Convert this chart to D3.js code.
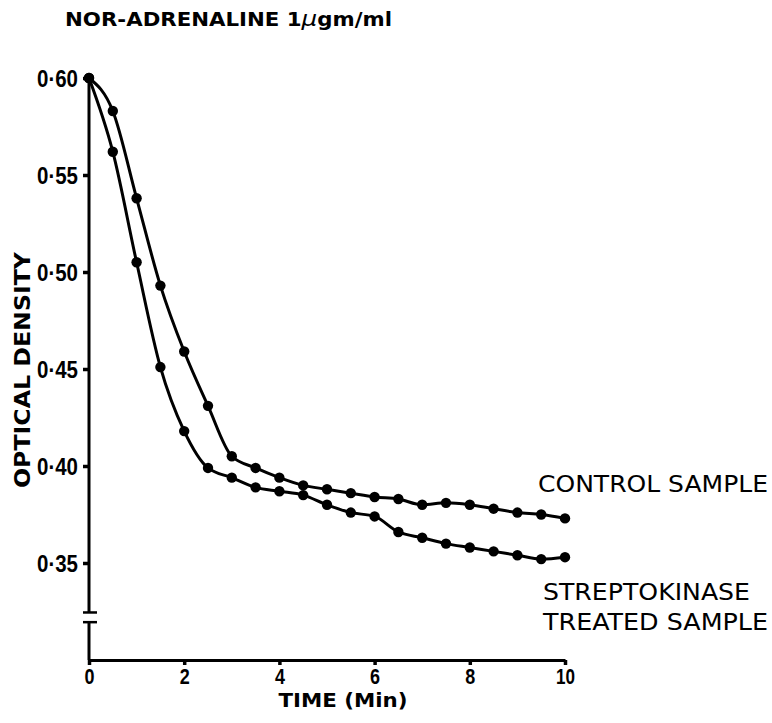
<!DOCTYPE html>
<html lang="en">
<head>
    <meta charset="utf-8">
    <title>Nor-adrenaline optical density</title>
    <script type="text/javascript" src="https://cdn.jsdelivr.net/npm/d3@7"></script>
    <style>
        body { margin: 0; background: #fff; }
    </style>
</head>
<body>
    <script type="text/javascript">

        // time in minutes, readings every half minute
        var times = [0, 0.5, 1, 1.5, 2, 2.5, 3, 3.5, 4, 4.5, 5, 5.5, 6, 6.5, 7, 7.5, 8, 8.5, 9, 9.5, 10];
        var control = [0.600, 0.583, 0.538, 0.493, 0.459, 0.431, 0.405, 0.399, 0.394, 0.390, 0.388,
                       0.386, 0.384, 0.383, 0.380, 0.381, 0.380, 0.378, 0.376, 0.375, 0.373];
        var strepto = [0.600, 0.562, 0.505, 0.451, 0.418, 0.399, 0.394, 0.389, 0.387, 0.385, 0.380,
                       0.376, 0.374, 0.366, 0.363, 0.360, 0.358, 0.356, 0.354, 0.352, 0.353];

        var xTicks = [0, 2, 4, 6, 8, 10];
        var yTicks = [0.35, 0.40, 0.45, 0.50, 0.55, 0.60];
        var yTickLabels = ["0\u00b735", "0\u00b740", "0\u00b745", "0\u00b750", "0\u00b755", "0\u00b760"];
        var yBreak = [0.3245, 0.3195];

        var w = 772;
        var h = 723;

        var x = d3.scaleLinear().domain([0, 10]).range([89, 565]);
        var y = d3.scaleLinear().domain([0.30, 0.60]).range([660, 78]);

        var svg = d3.select("body")
            .append("svg")
            .attr("width", w)
            .attr("height", h)

        var tickFont = "'Liberation Sans', Arial, sans-serif";
        var textFont = "'DejaVu Sans', 'Open Sans', sans-serif";

        // y axis with ticks only, the line itself is drawn with a break below
        var yAxis = svg.append("g")
            .attr("transform", "translate(" + x(0) + ",0)")
            .call(d3.axisLeft(y)
                .tickValues(yTicks)
                .tickFormat(function(d, i){return yTickLabels[i];})
                .tickSize(6)
                .tickPadding(5));
        yAxis.select(".domain").remove();
        yAxis.selectAll(".tick line").attr("stroke", "#000").attr("stroke-width", 3.5);
        yAxis.selectAll(".tick text")
            .attr("fill", "#000")
            .attr("font-family", tickFont)
            .attr("font-weight", "bold")
            .attr("font-size", 23)
            .attr("textLength", 41)
            .attr("lengthAdjust", "spacingAndGlyphs")
            .attr("dy", "0.36em");

        svg.append("line")
            .attr("x1", x(0)).attr("x2", x(0))
            .attr("y1", y(0.60)).attr("y2", y(yBreak[0]))
            .attr("stroke", "#000").attr("stroke-width", 3);
        svg.append("line")
            .attr("x1", x(0)).attr("x2", x(0))
            .attr("y1", y(yBreak[1])).attr("y2", y(0.30))
            .attr("stroke", "#000").attr("stroke-width", 3);
        svg.selectAll("line.brk")
            .data(yBreak)
            .enter()
            .append("line")
            .attr("class", "brk")
            .attr("x1", x(0) - 6).attr("x2", x(0) + 8)
            .attr("y1", function(d){return y(d);})
            .attr("y2", function(d){return y(d);})
            .attr("stroke", "#000").attr("stroke-width", 2.5);

        var xAxis = svg.append("g")
            .attr("transform", "translate(0," + y(0.30) + ")")
            .call(d3.axisBottom(x)
                .tickValues(xTicks)
                .tickFormat(d3.format("d"))
                .tickSize(5)
                .tickSizeOuter(0)
                .tickPadding(3));
        xAxis.select(".domain").attr("stroke", "#000").attr("stroke-width", 3);
        xAxis.selectAll(".tick line").attr("stroke", "#000").attr("stroke-width", 3.5);
        xAxis.selectAll(".tick text")
            .attr("fill", "#000")
            .attr("font-family", tickFont)
            .attr("font-weight", "bold")
            .attr("font-size", 22)
            .attr("textLength", function(d){return d >= 10 ? 19 : 10;})
            .attr("lengthAdjust", "spacingAndGlyphs");

        var line = d3.line()
            .x(function(d){return x(d[0]);})
            .y(function(d){return y(d[1]);})
            .curve(d3.curveMonotoneX);

        var series = [control, strepto];
        series.forEach(function(vals){
            var pts = times.map(function(t, i){return [t, vals[i]];});
            svg.append("path")
                .datum(pts)
                .attr("d", line)
                .attr("fill", "none")
                .attr("stroke", "#000")
                .attr("stroke-width", 3);
            svg.append("g")
                .selectAll("circle")
                .data(pts)
                .enter()
                .append("circle")
                .attr("cx", function(d){return x(d[0]);})
                .attr("cy", function(d){return y(d[1]);})
                .attr("r", 5.2)
                .attr("fill", "#000");
        });

        // titles and labels
        var title = svg.append("text")
            .attr("x", 65)
            .attr("y", 26)
            .attr("font-family", textFont)
            .attr("font-weight", "bold")
            .attr("font-size", 19)
            .attr("textLength", 327)
            .attr("lengthAdjust", "spacingAndGlyphs");
        title.append("tspan").text("NOR-ADRENALINE 1");
        title.append("tspan").attr("font-style", "italic").attr("font-weight", "normal").attr("font-size", 22).text("\u03bc");
        title.append("tspan").text("gm/ml");

        svg.append("text")
            .attr("transform", "translate(30,370) rotate(-90)")
            .attr("text-anchor", "middle")
            .attr("font-family", textFont)
            .attr("font-weight", "bold")
            .attr("font-size", 22)
            .attr("textLength", 236)
            .attr("lengthAdjust", "spacingAndGlyphs")
            .text("OPTICAL  DENSITY");

        svg.append("text")
            .attr("x", 343)
            .attr("y", 707)
            .attr("text-anchor", "middle")
            .attr("font-family", textFont)
            .attr("font-weight", "bold")
            .attr("font-size", 20)
            .attr("textLength", 129)
            .attr("lengthAdjust", "spacingAndGlyphs")
            .text("TIME (Min)");

        var seriesLabels = [
            {text: "CONTROL  SAMPLE", x: 538, y: 492, len: 230},
            {text: "STREPTOKINASE", x: 543, y: 600, len: 207},
            {text: "TREATED SAMPLE", x: 543, y: 630, len: 225}
        ];
        svg.selectAll("text.lab")
            .data(seriesLabels)
            .enter()
            .append("text")
            .attr("class", "lab")
            .attr("x", function(d){return d.x;})
            .attr("y", function(d){return d.y;})
            .attr("font-family", textFont)
            .attr("font-size", 23)
            .attr("textLength", function(d){return d.len;})
            .attr("lengthAdjust", "spacingAndGlyphs")
            .text(function(d){return d.text;});

    </script>
</body>
</html>
